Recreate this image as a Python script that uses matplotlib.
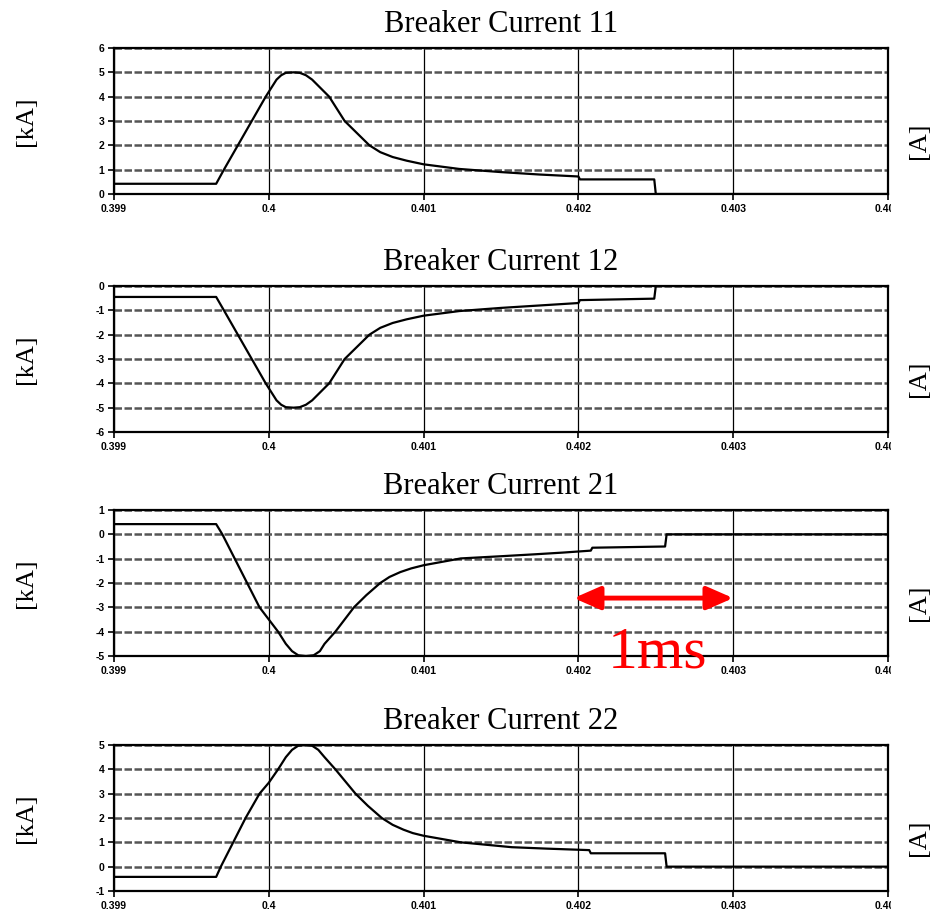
import matplotlib
matplotlib.use("Agg")
import matplotlib.pyplot as plt
from matplotlib.patches import Rectangle

# time [s] and current [kA]
t11 = [0.399, 0.39966, 0.39971, 0.39980, 0.39989, 0.39998, 0.40005, 0.40008, 0.40011, 0.40016,
       0.40020, 0.40024, 0.40028, 0.40039, 0.40049, 0.40057, 0.40065, 0.40072, 0.40080, 0.40089,
       0.40100, 0.40123, 0.40150, 0.40175, 0.40200, 0.40201, 0.40249, 0.40250, 0.40400]
i11 = [0.42, 0.42, 1.0, 2.0, 3.0, 4.0, 4.7, 4.88, 4.98, 5.0,
       4.98, 4.88, 4.7, 4.0, 3.0, 2.5, 2.0, 1.72, 1.52, 1.37,
       1.22, 1.03, 0.9, 0.8, 0.72, 0.6, 0.6, 0.0, 0.0]

t12 = [0.399, 0.39966, 0.39971, 0.39980, 0.39989, 0.39998, 0.40005, 0.40008, 0.40011, 0.40016,
       0.40020, 0.40024, 0.40028, 0.40039, 0.40049, 0.40057, 0.40065, 0.40072, 0.40080, 0.40089,
       0.40100, 0.40123, 0.40150, 0.40175, 0.40200, 0.40201, 0.40249, 0.40250, 0.40400]
i12 = [-0.45, -0.45, -1.0, -2.0, -3.0, -4.0, -4.7, -4.88, -4.98, -5.0,
       -4.98, -4.88, -4.7, -4.0, -3.0, -2.5, -2.0, -1.72, -1.52, -1.37,
       -1.22, -1.03, -0.9, -0.8, -0.7, -0.58, -0.52, 0.0, 0.0]

t21 = [0.399, 0.39966, 0.39970, 0.39978, 0.39986, 0.39994, 0.40000, 0.40006, 0.40011, 0.40015,
       0.40019, 0.40024, 0.40029, 0.40033, 0.40036, 0.40043, 0.40055, 0.40063, 0.40072, 0.40078,
       0.40085, 0.40092, 0.40100, 0.40124, 0.40150, 0.40172, 0.40190, 0.40208, 0.40209, 0.40256,
       0.40257, 0.40400]
i21 = [0.42, 0.42, 0.0, -1.0, -2.0, -3.0, -3.5, -4.0, -4.5, -4.8,
       -4.97, -5.0, -4.97, -4.8, -4.5, -4.0, -3.0, -2.5, -2.0, -1.75,
       -1.55, -1.4, -1.27, -0.99, -0.9, -0.82, -0.75, -0.67, -0.55, -0.5,
       0.0, 0.0]

t22 = [0.399, 0.39966, 0.39969, 0.39977, 0.39985, 0.39994, 0.40000, 0.40006, 0.40011, 0.40015,
       0.40019, 0.40024, 0.40028, 0.40032, 0.40036, 0.40043, 0.40056, 0.40064, 0.40073, 0.40080,
       0.40087, 0.40093, 0.40100, 0.40124, 0.40157, 0.40180, 0.40207, 0.40208, 0.40256, 0.40257,
       0.40400]
i22 = [-0.42, -0.42, 0.0, 1.0, 2.0, 3.0, 3.45, 4.0, 4.5, 4.8,
       4.97, 5.0, 4.97, 4.8, 4.5, 4.0, 3.0, 2.5, 2.0, 1.72,
       1.52, 1.38, 1.27, 1.0, 0.8, 0.74, 0.68, 0.55, 0.55, 0.0,
       0.0]

titles = ["Breaker Current 11", "Breaker Current 12", "Breaker Current 21", "Breaker Current 22"]
ylims = [(0, 6), (-6, 0), (-5, 1), (-1, 5)]
xticks = [0.399, 0.400, 0.401, 0.402, 0.403, 0.404]
xtick_labels = ["0.399", "0.4", "0.401", "0.402", "0.403", "0.404"]
traces = [(t11, i11), (t12, i12), (t21, i21), (t22, i22)]

W, H = 931, 915
fig = plt.figure(figsize=(W / 100, H / 100), dpi=100)
fig.patch.set_facecolor("white")

serif = "Liberation Serif"
# axes top in pixels from the top of the image
tops = [48, 286, 510, 745]
ax_h = 146
left, right = 114, 888

axes = []
for k in range(4):
    top = tops[k]
    ax = fig.add_axes([left / W, 1 - (top + ax_h) / H, (right - left) / W, ax_h / H])
    t, i = traces[k]
    ax.plot(t, i, color="black", lw=1.6, zorder=3)
    lo, hi = ylims[k]
    ax.set_xlim(xticks[0], xticks[-1])
    ax.set_ylim(lo, hi)
    ax.set_yticks(range(lo, hi + 1))
    ax.set_yticklabels([str(v) for v in range(lo, hi + 1)])
    ax.set_xticks(xticks)
    ax.set_xticklabels(xtick_labels)
    ax.grid(axis="y", color="#555555", linestyle=(0, (3, 1)), linewidth=1.8)
    ax.grid(axis="x", color="black", linestyle="-", linewidth=0.9)
    ax.set_axisbelow(True)
    for s in ax.spines.values():
        s.set_linewidth(1.6)
        s.set_color("black")
    ax.tick_params(direction="out", length=4, width=1.2, pad=3)
    for lab in ax.get_xticklabels() + ax.get_yticklabels():
        lab.set_fontsize(7.5)
        lab.set_fontweight("bold")
        lab.set_family("Liberation Sans")
    ax.set_title(titles[k], fontsize=22, family=serif, pad=11.5)

    yc = 1 - (top + ax_h / 2) / H
    fig.text(26 / W, yc, "[kA]", rotation=90, ha="center", va="center",
             fontsize=19, family=serif)
    fig.text(908 / W, yc - 20 / H, "[A]", rotation=90, ha="left", va="center",
             fontsize=19, family=serif)
    # the scan is cut right of the last tick label
    fig.add_artist(Rectangle((891 / W, 1 - (top + ax_h + 26) / H), 15 / W, 22 / H,
                             transform=fig.transFigure, facecolor="white",
                             edgecolor="none", zorder=5))
    axes.append(ax)

ax3 = axes[2]
ax3.annotate("", xy=(0.40197, -2.62), xytext=(0.403, -2.62),
             arrowprops=dict(arrowstyle="<|-|>,head_length=0.8,head_width=0.35",
                             color="red", lw=3.5, mutation_scale=20,
                             shrinkA=0, shrinkB=0), zorder=10)
ax3.text(0.40251, -5.49, "1ms", color="red", fontsize=43, family=serif,
         ha="center", va="baseline", clip_on=False, zorder=10)

fig.savefig("out.png", dpi=100)
